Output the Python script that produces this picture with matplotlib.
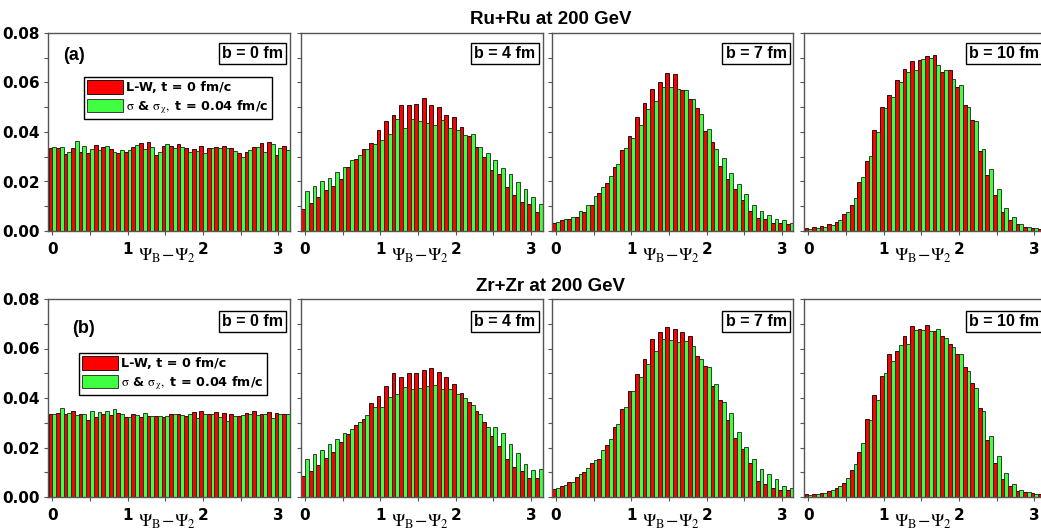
import matplotlib
matplotlib.use("Agg")
import matplotlib.pyplot as plt
import numpy as np
from matplotlib.ticker import MultipleLocator

plt.rcParams['font.family'] = ['Liberation Sans', 'DejaVu Sans']
plt.rcParams['mathtext.fontset'] = 'stix'
plt.rcParams['mathtext.default'] = 'rm'

# bin positions of Psi_B - Psi_2
psi = [0.0, 0.1, 0.2, 0.3, 0.4, 0.5, 0.6, 0.7, 0.8, 0.9, 1.0, 1.1, 1.2, 1.3, 1.4, 1.5,
       1.6, 1.7, 1.8, 1.9, 2.0, 2.1, 2.2, 2.3, 2.4, 2.5, 2.6, 2.7, 2.8, 2.9, 3.0, 3.1]

# Ru+Ru, L-W (red) and sigma & sigma_chi (green)
ru_b0_lw = [.0335, .0335, .0312, .0337, .0321, .0316, .0347, .0341, .0333, .0314, .0320, .0341,
            .0355, .0360, .0308, .0345, .0345, .0351, .0337, .0331, .0345, .0335, .0341, .0345,
            .0337, .0314, .0318, .0340, .0355, .0360, .0308, .0343]
ru_b0_sg = [.0340, .0341, .0320, .0363, .0345, .0331, .0328, .0345, .0321, .0328, .0327, .0347,
            .0331, .0339, .0318, .0352, .0336, .0339, .0318, .0324, .0314, .0335, .0337, .0336,
            .0322, .0301, .0329, .0341, .0318, .0351, .0335, .0329]
ru_b4_lw = [.0088, .0112, .0136, .0165, .0180, .0209, .0258, .0290, .0333, .0355, .0407, .0445,
            .0470, .0510, .0510, .0514, .0538, .0511, .0499, .0467, .0460, .0421, .0385, .0340,
            .0298, .0247, .0232, .0177, .0147, .0116, .0109, .0078]
ru_b4_sg = [.0162, .0182, .0200, .0213, .0239, .0260, .0285, .0308, .0330, .0352, .0367, .0391,
            .0453, .0416, .0452, .0445, .0438, .0429, .0449, .0416, .0409, .0387, .0391, .0340,
            .0317, .0285, .0254, .0231, .0197, .0171, .0139, .0108]
ru_b7_lw = [.0034, .0045, .0049, .0058, .0077, .0105, .0152, .0193, .0260, .0328, .0382, .0459,
            .0517, .0573, .0600, .0638, .0634, .0571, .0533, .0496, .0405, .0358, .0262, .0209,
            .0169, .0126, .0082, .0051, .0047, .0031, .0031, .0027]
ru_b7_sg = [.0036, .0047, .0058, .0081, .0105, .0143, .0177, .0224, .0271, .0337, .0374, .0428,
            .0492, .0525, .0581, .0581, .0573, .0568, .0533, .0472, .0411, .0331, .0295, .0233,
            .0189, .0148, .0107, .0081, .0065, .0047, .0043, .0031]
ru_b10_lw = [.0011, .0015, .0020, .0027, .0036, .0069, .0104, .0196, .0282, .0409, .0503, .0550,
             .0611, .0656, .0685, .0692, .0706, .0710, .0641, .0652, .0581, .0509, .0447, .0325,
             .0227, .0146, .0076, .0045, .0028, .0018, .0012, .0009]
ru_b10_sg = [.0008, .0012, .0016, .0024, .0045, .0076, .0134, .0217, .0305, .0402, .0496, .0541,
             .0600, .0642, .0652, .0696, .0699, .0672, .0652, .0615, .0590, .0501, .0444, .0331,
             .0250, .0170, .0092, .0055, .0027, .0015, .0012, .0007]

# Zr+Zr
zr_b0_lw = [.0335, .0341, .0334, .0346, .0336, .0311, .0323, .0334, .0330, .0338, .0323, .0334,
            .0323, .0327, .0327, .0323, .0335, .0336, .0326, .0342, .0347, .0334, .0343, .0339,
            .0335, .0328, .0339, .0346, .0335, .0342, .0338, .0334]
zr_b0_sg = [.0334, .0358, .0341, .0331, .0335, .0346, .0342, .0346, .0355, .0336, .0324, .0332,
            .0338, .0328, .0326, .0328, .0335, .0331, .0336, .0319, .0335, .0334, .0323, .0308,
            .0328, .0330, .0336, .0330, .0336, .0319, .0334, .0334]
zr_b4_lw = [.0085, .0107, .0128, .0158, .0182, .0223, .0254, .0289, .0314, .0378, .0408, .0449,
            .0500, .0486, .0500, .0500, .0514, .0522, .0505, .0486, .0457, .0419, .0382, .0346,
            .0304, .0246, .0205, .0154, .0122, .0105, .0076, .0076]
zr_b4_sg = [.0154, .0174, .0188, .0215, .0234, .0259, .0276, .0304, .0332, .0364, .0365, .0404,
            .0416, .0446, .0436, .0441, .0450, .0453, .0438, .0438, .0416, .0399, .0370, .0334,
            .0284, .0284, .0257, .0216, .0176, .0135, .0111, .0115]
zr_b7_lw = [.0032, .0045, .0059, .0081, .0103, .0138, .0155, .0211, .0284, .0354, .0428, .0496,
            .0557, .0638, .0668, .0686, .0678, .0668, .0649, .0568, .0530, .0449, .0392, .0311,
            .0239, .0192, .0138, .0064, .0051, .0035, .0027, .0027]
zr_b7_sg = [.0036, .0050, .0062, .0093, .0119, .0151, .0189, .0234, .0296, .0364, .0428, .0484,
            .0538, .0591, .0638, .0636, .0628, .0630, .0611, .0557, .0524, .0457, .0385, .0338,
            .0264, .0203, .0153, .0115, .0091, .0074, .0045, .0038]
zr_b10_lw = [.0014, .0014, .0018, .0026, .0038, .0058, .0111, .0182, .0315, .0411, .0489, .0577,
             .0591, .0650, .0692, .0678, .0695, .0672, .0650, .0619, .0577, .0527, .0459, .0358,
             .0230, .0139, .0072, .0045, .0024, .0020, .0016, .0011]
zr_b10_sg = [.0007, .0011, .0016, .0027, .0043, .0078, .0135, .0220, .0312, .0392, .0499, .0549,
             .0614, .0620, .0676, .0676, .0672, .0680, .0642, .0605, .0576, .0509, .0439, .0346,
             .0247, .0166, .0097, .0054, .0030, .0019, .0014, .0007]

b_labels = ['b = 0 fm', 'b = 4 fm', 'b = 7 fm', 'b = 10 fm']
row_titles = ['Ru+Ru at 200 GeV', 'Zr+Zr at 200 GeV']
panel_tags = ['(a)', '(b)']
rows = [
    [(ru_b0_lw, ru_b0_sg), (ru_b4_lw, ru_b4_sg), (ru_b7_lw, ru_b7_sg), (ru_b10_lw, ru_b10_sg)],
    [(zr_b0_lw, zr_b0_sg), (zr_b4_lw, zr_b4_sg), (zr_b7_lw, zr_b7_sg), (zr_b10_lw, zr_b10_sg)],
]

W, H = 1041, 529
fig = plt.figure(figsize=(W / 100, H / 100), dpi=100)

col_left = [47.8, 300.5, 551.5, 803.8]   # pixels
ax_w = 242
row_top = [33, 299]
ax_h = 198

red = '#FF0000'
green = '#40FF40'
spine_c = '#555555'
bw = 0.05
x = np.array(psi)

for r in range(2):
    for c in range(4):
        lw_vals, sg_vals = rows[r][c]
        ax = fig.add_axes([col_left[c] / W, (H - row_top[r] - ax_h) / H, ax_w / W, ax_h / H])
        b1 = ax.bar(x - bw / 2, lw_vals, width=bw, color=red, edgecolor='black', linewidth=0.6,
                    label='L-W, t = 0 fm/c')
        b2 = ax.bar(x + bw / 2, sg_vals, width=bw, color=green, edgecolor='#222222', linewidth=0.6,
                    label=r'$\sigma$ & $\sigma_{\chi},$ t = 0.04 fm/c')
        ax.set_xlim(-0.06, 3.15)
        ax.set_ylim(0, 0.08)
        ax.xaxis.set_major_locator(MultipleLocator(1))
        ax.xaxis.set_minor_locator(MultipleLocator(0.5))
        ax.yaxis.set_major_locator(MultipleLocator(0.02))
        ax.yaxis.set_minor_locator(MultipleLocator(0.01))
        ax.tick_params(which='both', direction='out', length=3, width=0.8, color=spine_c,
                       top=False, right=False)
        ax.tick_params(axis='x', pad=5)
        ax.tick_params(axis='y', pad=3)
        for s in ax.spines.values():
            s.set_color(spine_c)
            s.set_linewidth(1.0)
        for lab in ax.get_xticklabels():
            lab.set_fontfamily('DejaVu Sans')
            lab.set_fontweight('bold')
            lab.set_fontsize(11)
        if c == 0:
            ax.yaxis.set_major_formatter(matplotlib.ticker.FormatStrFormatter('%.2f'))
            for lab in ax.get_yticklabels():
                lab.set_fontfamily('DejaVu Sans')
                lab.set_fontweight('bold')
                lab.set_fontsize(11)
        else:
            ax.set_yticklabels([])

        ax.annotate(r'$\Psi_B\!-\!\Psi_2$', xy=(1.52, 0), xycoords=('data', 'axes fraction'),
                    xytext=(0, -11), textcoords='offset points', ha='center', va='top',
                    fontsize=13, annotation_clip=False)

        ax.annotate(b_labels[c], xy=(1, 1), xycoords='axes fraction',
                    xytext=(-5, -9.5 if r == 0 else -11), textcoords='offset points',
                    ha='right', va='top', fontsize=11.5, fontweight='bold',
                    bbox=dict(boxstyle='square,pad=0.2', fc='white', ec='black', lw=1.0))

        if c == 0:
            ax.annotate(panel_tags[r], xy=(0, 1), xycoords='axes fraction',
                        xytext=(11 if r == 0 else 17.5, -16 if r == 0 else -21),
                        textcoords='offset points', ha='left', va='center',
                        fontsize=13, fontweight='bold')
            anchor = (0.15, 0.778) if r == 0 else (0.128, 0.728)
            leg = ax.legend(handles=[b1, b2], loc='upper left', bbox_to_anchor=anchor,
                            borderaxespad=0, fancybox=False, framealpha=1,
                            edgecolor='black', handlelength=2.8, handleheight=1.25,
                            labelspacing=0.3, borderpad=0.25, handletextpad=0.25,
                            prop={'family': 'DejaVu Sans', 'weight': 'bold', 'size': 9.2})
            leg.get_frame().set_linewidth(1.0)

    fig.text(551 / W, 1 - (19 if r == 0 else 286.5) / H, row_titles[r], ha='center', va='center',
             fontsize=13.5, fontweight='bold')

fig.savefig('out.png', dpi=100)
